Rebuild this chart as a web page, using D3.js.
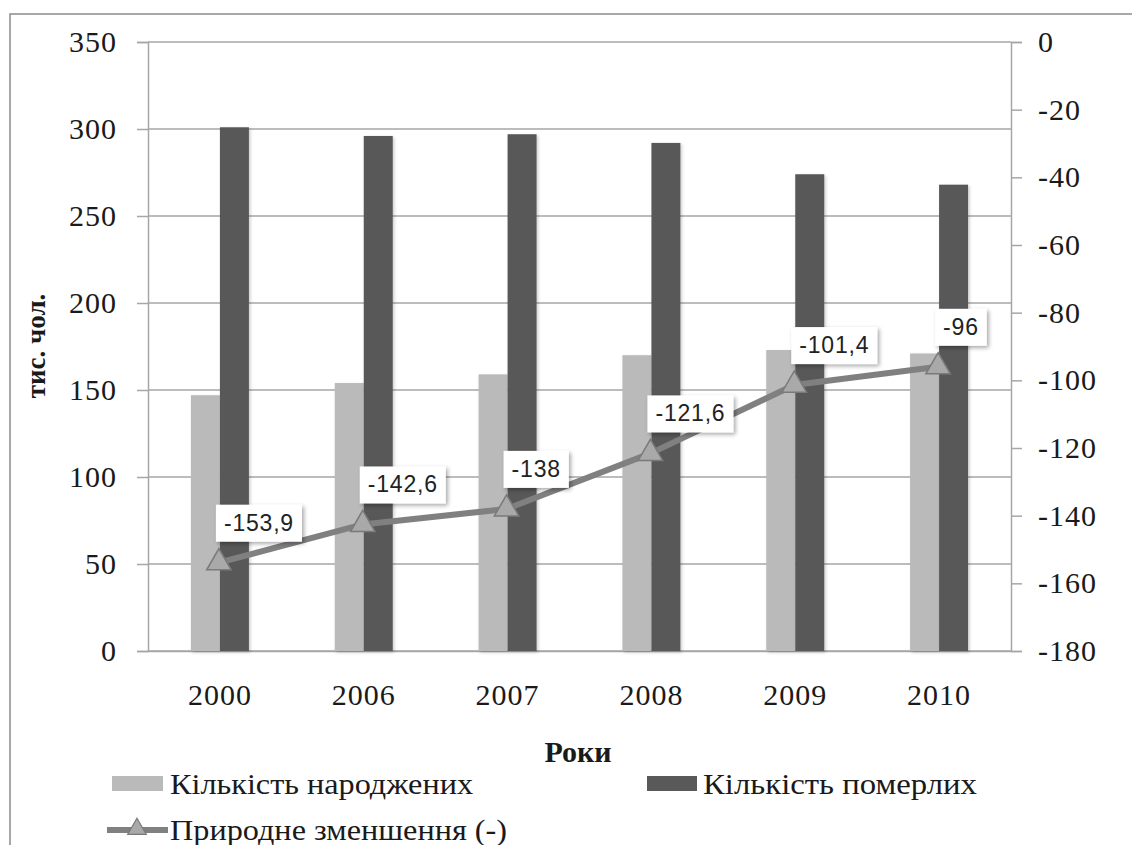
<!DOCTYPE html>
<html>
<head>
<meta charset="utf-8">
<script src="https://cdn.jsdelivr.net/npm/d3@7"></script>
<style>
  body { margin: 0; background: #fff; }
  svg { display: block; }
  .tick text { font-family: "Liberation Serif", "Times New Roman", Times, "DejaVu Serif", serif; font-size: 30px; fill: #1a1a1a; letter-spacing: 1px; }
  .serif { font-family: "Liberation Serif", "Times New Roman", Times, "DejaVu Serif", serif; fill: #1a1a1a; }
</style>
</head>
<body>
<script>
// data
const years = ["2000", "2006", "2007", "2008", "2009", "2010"];
const births = [147, 154, 159, 170, 173, 171];
const deaths = [301, 296, 297, 292, 274, 268];
const decrease = [-153.9, -142.6, -138, -121.6, -101.4, -96];
const leftTicks = [0, 50, 100, 150, 200, 250, 300, 350];
const rightTicks = [0, -20, -40, -60, -80, -100, -120, -140, -160, -180];
const seriesNames = ["Кількість народжених", "Кількість померлих", "Природне зменшення (-)"];

// constants
const width = 1132;
const height = 845;
const plot = { left: 148, right: 1011, top: 42, bottom: 651 };
const lightGray = "#bababa";
const darkGray = "#595959";
const lineGray = "#808080";
const gridGray = "#a6a6a6";
const serifFont = "'Liberation Serif', 'Times New Roman', Times, 'DejaVu Serif', serif";

const svg = d3.select("body").append("svg")
    .attr("width", width)
    .attr("height", height);

const defs = svg.append("defs");
const shadow = defs.append("filter").attr("id", "shadow")
    .attr("x", "-20%").attr("y", "-20%").attr("width", "150%").attr("height", "160%");
shadow.append("feDropShadow")
    .attr("dx", 2).attr("dy", 2).attr("stdDeviation", 2)
    .attr("flood-color", "#000").attr("flood-opacity", 0.35);

const barShadow = defs.append("filter").attr("id", "barShadow")
    .attr("x", "-20%").attr("y", "-5%").attr("width", "150%").attr("height", "115%");
barShadow.append("feDropShadow")
    .attr("dx", 1.5).attr("dy", 1.5).attr("stdDeviation", 1.5)
    .attr("flood-color", "#000").attr("flood-opacity", 0.2);

// outer frame (runs off the page on the right and bottom)
svg.append("rect")
    .attr("x", 10).attr("y", 14)
    .attr("width", 1200).attr("height", 900)
    .attr("fill", "#fff")
    .attr("stroke", "#8c8c8c")
    .attr("stroke-width", 1.5);

// scales
const x = d3.scaleBand()
    .domain(years)
    .range([plot.left, plot.right]);

const x1 = d3.scaleBand()
    .domain(["births", "deaths"])
    .range([0, x.bandwidth()])
    .paddingOuter(1.48);

const y = d3.scaleLinear()
    .domain([0, 350])
    .range([plot.bottom, plot.top]);

const y2 = d3.scaleLinear()
    .domain([-180, 0])
    .range([plot.bottom, plot.top]);

// gridlines
svg.append("g")
    .selectAll("line")
    .data(leftTicks)
    .join("line")
    .attr("x1", plot.left)
    .attr("x2", plot.right)
    .attr("y1", d => y(d))
    .attr("y2", d => y(d))
    .attr("stroke", gridGray)
    .attr("stroke-width", 1.5);

// left axis
const leftAxis = svg.append("g")
    .attr("transform", `translate(${plot.left},0)`)
    .call(d3.axisLeft(y).tickValues(leftTicks).tickSize(11).tickPadding(20));

// right axis
const rightAxis = svg.append("g")
    .attr("transform", `translate(${plot.right},0)`)
    .call(d3.axisRight(y2).tickValues(rightTicks).tickSize(11).tickPadding(16)
        .tickFormat(d => d3.format("d")(d).replace("−", "-")));

// bottom axis
const bottomAxis = svg.append("g")
    .attr("transform", `translate(0,${plot.bottom})`)
    .call(d3.axisBottom(x).tickSize(0).tickPadding(33));

[leftAxis, rightAxis, bottomAxis].forEach(g => {
    g.attr("font-family", serifFont);
    g.select(".domain").attr("stroke", gridGray).attr("stroke-width", 1.5);
    g.selectAll(".tick line").attr("stroke", gridGray).attr("stroke-width", 1.5);
    g.selectAll(".tick text").attr("font-family", serifFont);
});

// bars
const barData = years.map((yr, i) => ({ year: yr, births: births[i], deaths: deaths[i] }));

const groups = svg.append("g")
    .selectAll("g")
    .data(barData)
    .join("g")
    .attr("transform", d => `translate(${x(d.year)},0)`);

groups.selectAll("rect")
    .data(d => [
        { key: "births", value: d.births, color: lightGray },
        { key: "deaths", value: d.deaths, color: darkGray }
    ])
    .join("rect")
    .attr("x", d => x1(d.key))
    .attr("y", d => y(d.value))
    .attr("width", x1.bandwidth())
    .attr("height", d => plot.bottom - y(d.value))
    .attr("fill", d => d.color)
    .attr("filter", "url(#barShadow)");

// line series
const cx = d => x(d) + x.bandwidth() / 2 - 1;
const linePts = years.map((yr, i) => [cx(yr), y2(decrease[i])]);

svg.append("path")
    .attr("d", d3.line()(linePts))
    .attr("fill", "none")
    .attr("stroke", lineGray)
    .attr("stroke-width", 6)
    .attr("stroke-linejoin", "round");

const tri = d3.symbol().type(d3.symbolTriangle).size(260);

svg.append("g")
    .selectAll("path")
    .data(linePts)
    .join("path")
    .attr("transform", d => `translate(${d[0]},${d[1]})`)
    .attr("d", tri)
    .attr("fill", "#a9a9a9")
    .attr("stroke", "#7a7a7a")
    .attr("stroke-width", 1.5);

// data labels
const fmt = v => String(v).replace(".", ",");
const labels = svg.append("g")
    .selectAll("g")
    .data(linePts.map((p, i) => ({ p, text: fmt(decrease[i]) })))
    .join("g")
    .attr("transform", d => `translate(${d.p[0] - 3},${d.p[1] - 21})`);

labels.each(function(d) {
    const g = d3.select(this);
    const t = g.append("text")
        .attr("x", 8)
        .attr("y", -11)
        .attr("font-family", "'Liberation Sans', Arial, sans-serif")
        .attr("font-size", 23)
        .attr("letter-spacing", 0.8)
        .attr("fill", "#222")
        .text(d.text);
    const w = t.node().getComputedTextLength();
    g.insert("rect", "text")
        .attr("x", 0)
        .attr("y", -37)
        .attr("width", w + 16)
        .attr("height", 37)
        .attr("fill", "#fff")
        .attr("filter", "url(#shadow)");
});

// axis titles
svg.append("text")
    .attr("class", "serif")
    .attr("font-family", serifFont)
    .attr("transform", "translate(45,346) rotate(-90)")
    .attr("text-anchor", "middle")
    .attr("font-weight", "bold")
    .attr("font-size", 27)
    .text("тис. чол.");

svg.append("text")
    .attr("class", "serif")
    .attr("font-family", serifFont)
    .attr("x", 578)
    .attr("y", 762)
    .attr("text-anchor", "middle")
    .attr("font-weight", "bold")
    .attr("font-size", 30)
    .text("Роки");

// legend
const legend = svg.append("g").attr("font-family", serifFont);

legend.append("rect")
    .attr("x", 112).attr("y", 776).attr("width", 51).attr("height", 15)
    .attr("fill", lightGray);
legend.append("text")
    .attr("class", "serif")
    .attr("x", 170).attr("y", 794)
    .attr("font-size", 30)
    .attr("textLength", 303)
    .attr("lengthAdjust", "spacingAndGlyphs")
    .text(seriesNames[0]);

legend.append("rect")
    .attr("x", 647).attr("y", 776).attr("width", 50).attr("height", 15)
    .attr("fill", darkGray);
legend.append("text")
    .attr("class", "serif")
    .attr("x", 703).attr("y", 794)
    .attr("font-size", 30)
    .attr("textLength", 274)
    .attr("lengthAdjust", "spacingAndGlyphs")
    .text(seriesNames[1]);

legend.append("line")
    .attr("x1", 107).attr("x2", 168).attr("y1", 830).attr("y2", 830)
    .attr("stroke", lineGray).attr("stroke-width", 6);
legend.append("path")
    .attr("transform", "translate(137,829)")
    .attr("d", d3.symbol().type(d3.symbolTriangle).size(150))
    .attr("fill", "#a9a9a9")
    .attr("stroke", "#7a7a7a")
    .attr("stroke-width", 1.2);
legend.append("text")
    .attr("class", "serif")
    .attr("x", 170).attr("y", 840)
    .attr("font-size", 30)
    .attr("textLength", 337)
    .attr("lengthAdjust", "spacingAndGlyphs")
    .text(seriesNames[2]);
</script>
</body>
</html>
